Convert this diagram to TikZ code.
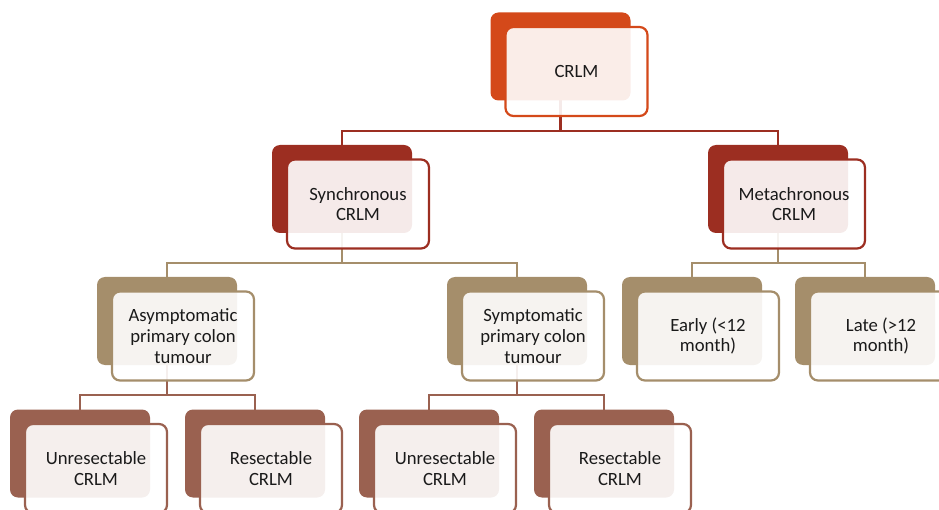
\documentclass[tikz,border=0pt]{standalone}
\usepackage{fontspec}
\setmainfont{Carlito}
\definecolor{cOrange}{HTML}{D4491A}
\definecolor{cRed}{HTML}{9C2E21}
\definecolor{cTan}{HTML}{A58E6B}
\definecolor{cBrown}{HTML}{9A6150}
\definecolor{cText}{HTML}{1A1A1A}
\tikzset{
  backbox/.style={rectangle, rounded corners=8pt, minimum width=140pt, minimum height=88pt, inner sep=0pt, fill=#1},
  frontbox/.style={rectangle, rounded corners=8pt, minimum width=142pt, minimum height=89pt, inner sep=0pt, draw=#1, line width=2.2pt, fill=white, fill opacity=0.9, text opacity=1, text=cText, align=center, font=\fontsize{18.7pt}{20.8pt}\selectfont},
  conn/.style={draw=#1, line width=2.4pt},
}
\begin{document}
\begin{tikzpicture}[x=1pt,y=-1pt]
\useasboundingbox (0,0) rectangle (939,510);
% back box positions (centres)
\coordinate (pcrlm) at (560.5,56.5);
\coordinate (psync) at (342,189);
\coordinate (pmeta) at (778,189);
\coordinate (pasym) at (167,321);
\coordinate (psymp) at (517,321);
\coordinate (pearly) at (692,321);
\coordinate (plate) at (865,321);
\coordinate (pun1) at (80,453.5);
\coordinate (pre1) at (255,453.5);
\coordinate (pun2) at (429,453.5);
\coordinate (pre2) at (604,453.5);
% junction levels
\coordinate (j1) at (560.5,131);
\coordinate (j2a) at (342,263);
\coordinate (j2b) at (778,263);
\coordinate (j3a) at (167,395);
\coordinate (j3b) at (517,395);
% connectors
\draw[conn=cRed] (pcrlm) -- (j1);
\draw[conn=cRed] (j1) -| (psync);
\draw[conn=cRed] (j1) -| (pmeta);
\draw[conn=cTan] (psync) -- (j2a);
\draw[conn=cTan] (j2a) -| (pasym);
\draw[conn=cTan] (j2a) -| (psymp);
\draw[conn=cTan] (pmeta) -- (j2b);
\draw[conn=cTan] (j2b) -| (pearly);
\draw[conn=cTan] (j2b) -| (plate);
\draw[conn=cBrown] (pasym) -- (j3a);
\draw[conn=cBrown] (j3a) -| (pun1);
\draw[conn=cBrown] (j3a) -| (pre1);
\draw[conn=cBrown] (psymp) -- (j3b);
\draw[conn=cBrown] (j3b) -| (pun2);
\draw[conn=cBrown] (j3b) -| (pre2);
% back boxes
\node[backbox=cOrange] (crlmB) at (pcrlm) {};
\node[backbox=cRed] (syncB) at (psync) {};
\node[backbox=cRed] (metaB) at (pmeta) {};
\node[backbox=cTan] (asymB) at (pasym) {};
\node[backbox=cTan] (sympB) at (psymp) {};
\node[backbox=cTan] (earlyB) at (pearly) {};
\node[backbox=cTan] (lateB) at (plate) {};
\node[backbox=cBrown] (un1B) at (pun1) {};
\node[backbox=cBrown] (re1B) at (pre1) {};
\node[backbox=cBrown] (un2B) at (pun2) {};
\node[backbox=cBrown] (re2B) at (pre2) {};
% front boxes
\node[frontbox=cOrange] (crlm) at ([shift={(16,15)}]crlmB.center) {CRLM};
\node[frontbox=cRed] (sync) at ([shift={(16,15)}]syncB.center) {Synchronous\\CRLM};
\node[frontbox=cRed] (meta) at ([shift={(16,15)}]metaB.center) {Metachronous\\CRLM};
\node[frontbox=cTan] (asym) at ([shift={(16,15)}]asymB.center) {Asymptomatic\\primary colon\\tumour};
\node[frontbox=cTan] (symp) at ([shift={(16,15)}]sympB.center) {Symptomatic\\primary colon\\tumour};
\node[frontbox=cTan] (early) at ([shift={(16,15)}]earlyB.center) {Early (<12\\month)};
\node[frontbox=cTan] (late) at ([shift={(16,15)}]lateB.center) {Late (>12\\month)};
\node[frontbox=cBrown] (un1) at ([shift={(16,15)}]un1B.center) {Unresectable\\CRLM};
\node[frontbox=cBrown] (re1) at ([shift={(16,15)}]re1B.center) {Resectable\\CRLM};
\node[frontbox=cBrown] (un2) at ([shift={(16,15)}]un2B.center) {Unresectable\\CRLM};
\node[frontbox=cBrown] (re2) at ([shift={(16,15)}]re2B.center) {Resectable\\CRLM};
\end{tikzpicture}
\end{document}
